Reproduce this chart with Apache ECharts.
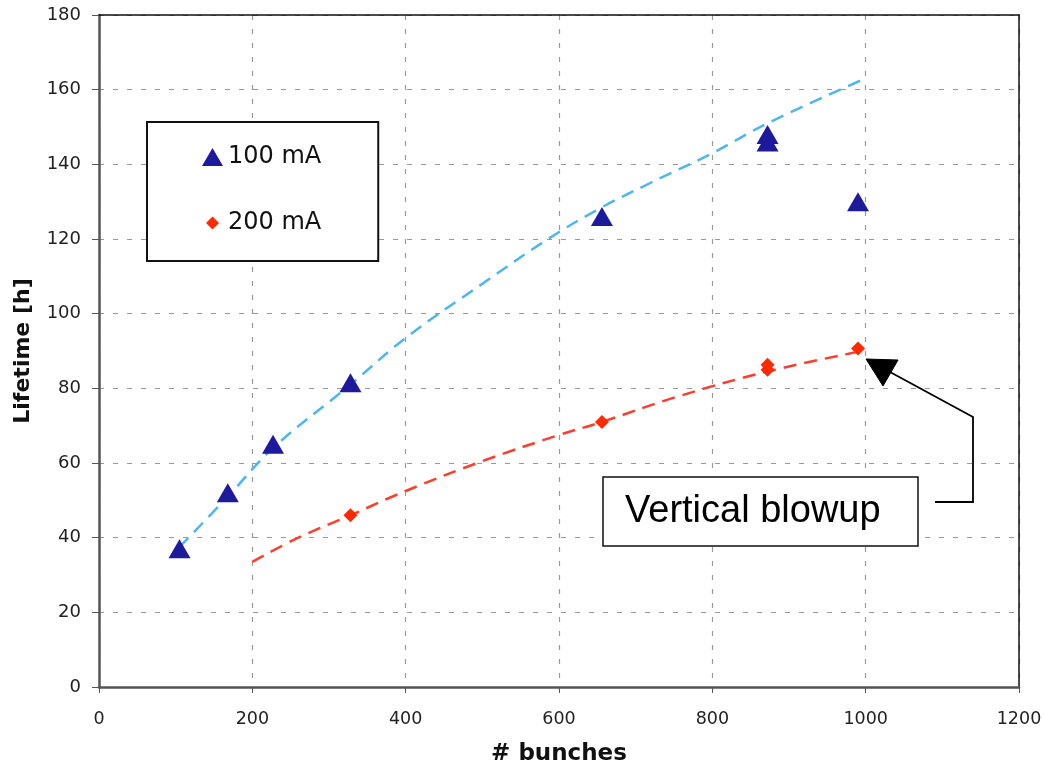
<!DOCTYPE html>
<html>
<head>
<meta charset="utf-8">
<script src="https://cdn.jsdelivr.net/npm/echarts@6/dist/echarts.min.js"></script>
<style>
html,body{margin:0;padding:0;background:#fff;}
#chart{width:1044px;height:764px;}
</style>
</head>
<body>
<div id="chart"></div>
<script>
// ---- data ----
var bunches100 = [105, 168, 227, 328, 656, 872, 872, 990];
var lifetime100 = [37, 52, 65, 81.5, 126, 146, 148, 130];
var bunches200 = [328, 656, 872, 872, 990];
var lifetime200 = [46, 71, 86.3, 85, 90.7];
// dashed trend lines
var trend100X = [105, 168, 227, 328, 400, 500, 588, 656, 719, 800, 872, 995];
var trend100Y = [37.5, 51, 64, 81, 93.5, 108, 120.3, 128.5, 135, 143, 151, 162.6];
var trend200X = [200, 260, 328, 400, 500, 600, 656, 750, 872, 1000];
var trend200Y = [33.5, 40, 46, 52.5, 60.5, 67.5, 71, 77.5, 84.5, 90.2];
var xTicks = [0, 200, 400, 600, 800, 1000, 1200];
var yTicks = [0, 20, 40, 60, 80, 100, 120, 140, 160, 180];
var seriesNames = ['100 mA', '200 mA'];
var annotationText = 'Vertical blowup';

function zip(a, b) { return a.map(function (v, i) { return [v, b[i]]; }); }

var chart = echarts.init(document.getElementById('chart'), null, {renderer: 'canvas'});
var gridLeft = 99, gridTop = 15, gridRight = 25, gridBottom = 77;
var xMin = xTicks[0], xMax = xTicks[xTicks.length - 1];
var yMin = yTicks[0], yMax = yTicks[yTicks.length - 1];

var option = {
  animation: false,
  backgroundColor: '#fff',
  grid: {left: gridLeft, top: gridTop, right: gridRight, bottom: gridBottom,
         containLabel: false, outerBoundsMode: 'none'},
  legend: {
    orient: 'vertical', left: 147, top: 122,
    padding: [23, 57, 26, 55], itemGap: 42,
    itemWidth: 21, itemHeight: 18,
    borderColor: '#111', borderWidth: 2, backgroundColor: '#fff',
    textStyle: {fontFamily: 'DejaVu Sans', fontSize: 24, color: '#111', lineHeight: 24},
    data: [
      {name: seriesNames[0], icon: 'triangle'},
      {name: seriesNames[1], icon: 'path://M0,0M21,18M10.5,2.5L17,9L10.5,15.5L4,9Z'}
    ]
  },
  xAxis: [{
    type: 'value', min: xMin, max: xMax, interval: 200,
    name: '# bunches', nameLocation: 'middle', nameGap: 56,
    nameTextStyle: {fontFamily: 'DejaVu Sans', fontWeight: 'bold', fontSize: 23, color: '#111'},
    axisLine: {lineStyle: {color: '#555', width: 2.5}},
    axisTick: {show: true, length: 6, lineStyle: {color: '#555', width: 1}},
    axisLabel: {fontFamily: 'DejaVu Sans', fontSize: 17.5, color: '#222', margin: 23,
                formatter: function (v) { return String(v); }},
    splitLine: {show: true, lineStyle: {color: '#999', type: [5, 9], width: 1.2}}
  }, {
    type: 'value', min: xMin, max: xMax, interval: 200, position: 'top',
    axisLine: {show: true, onZero: false, lineStyle: {color: '#111', width: 1.5}},
    axisTick: {show: false}, axisLabel: {show: false}, splitLine: {show: false}
  }],
  yAxis: [{
    type: 'value', min: yMin, max: yMax, interval: 20,
    name: 'Lifetime [h]', nameLocation: 'middle', nameGap: 65,
    nameTextStyle: {fontFamily: 'DejaVu Sans', fontWeight: 'bold', fontSize: 22, color: '#111'},
    axisLine: {show: true, lineStyle: {color: '#555', width: 2.5}},
    axisTick: {show: true, length: 7, lineStyle: {color: '#555', width: 1}},
    axisLabel: {fontFamily: 'DejaVu Sans', fontSize: 18, color: '#222', margin: 18},
    splitLine: {show: true, lineStyle: {color: '#999', type: [5, 9], width: 1.2}}
  }, {
    type: 'value', min: yMin, max: yMax, interval: 20, position: 'right',
    axisLine: {show: true, onZero: false, lineStyle: {color: '#111', width: 1.5}},
    axisTick: {show: false}, axisLabel: {show: false}, splitLine: {show: false}
  }],
  series: [
    {
      name: 'trend100', type: 'line', data: zip(trend100X, trend100Y), smooth: 0.4,
      showSymbol: false, silent: true, z: 2,
      lineStyle: {color: '#4db6f2', width: 2.5, type: [13, 8]}
    },
    {
      name: 'trend200', type: 'line', data: zip(trend200X, trend200Y), smooth: 0.4,
      showSymbol: false, silent: true, z: 2,
      lineStyle: {color: '#ff3d2e', width: 2.5, type: [13, 8]}
    },
    {
      name: seriesNames[0], type: 'scatter', data: zip(bunches100, lifetime100),
      symbol: 'triangle', symbolSize: [22, 19], z: 3,
      itemStyle: {color: '#1d1a9c', opacity: 1}
    },
    {
      name: seriesNames[1], type: 'scatter', data: zip(bunches200, lifetime200),
      symbol: 'diamond', symbolSize: [14, 14], z: 3,
      itemStyle: {color: '#ff2a00', opacity: 1}
    }
  ]
};
chart.setOption(option);

// annotation: text box with elbow connector and arrowhead
chart.setOption({
  graphic: [
    {type: 'rect', z: 10, shape: {x: 603, y: 477, width: 315, height: 69},
     style: {fill: '#fff', stroke: '#111', lineWidth: 1.5}},
    {type: 'text', z: 11, x: 625, y: 512,
     style: {text: annotationText, fontFamily: 'Liberation Sans', fontSize: 38, fill: '#000',
             verticalAlign: 'middle', align: 'left'}},
    {type: 'polyline', z: 10,
     shape: {points: [[935, 502], [973, 502], [973, 417], [890, 372]]},
     style: {stroke: '#000', lineWidth: 1.8, fill: null}},
    {type: 'polygon', z: 10,
     shape: {points: [[866, 359], [898, 360], [883, 386]]},
     style: {fill: '#000', stroke: '#000', lineWidth: 1}}
  ]
});
</script>
</body>
</html>
